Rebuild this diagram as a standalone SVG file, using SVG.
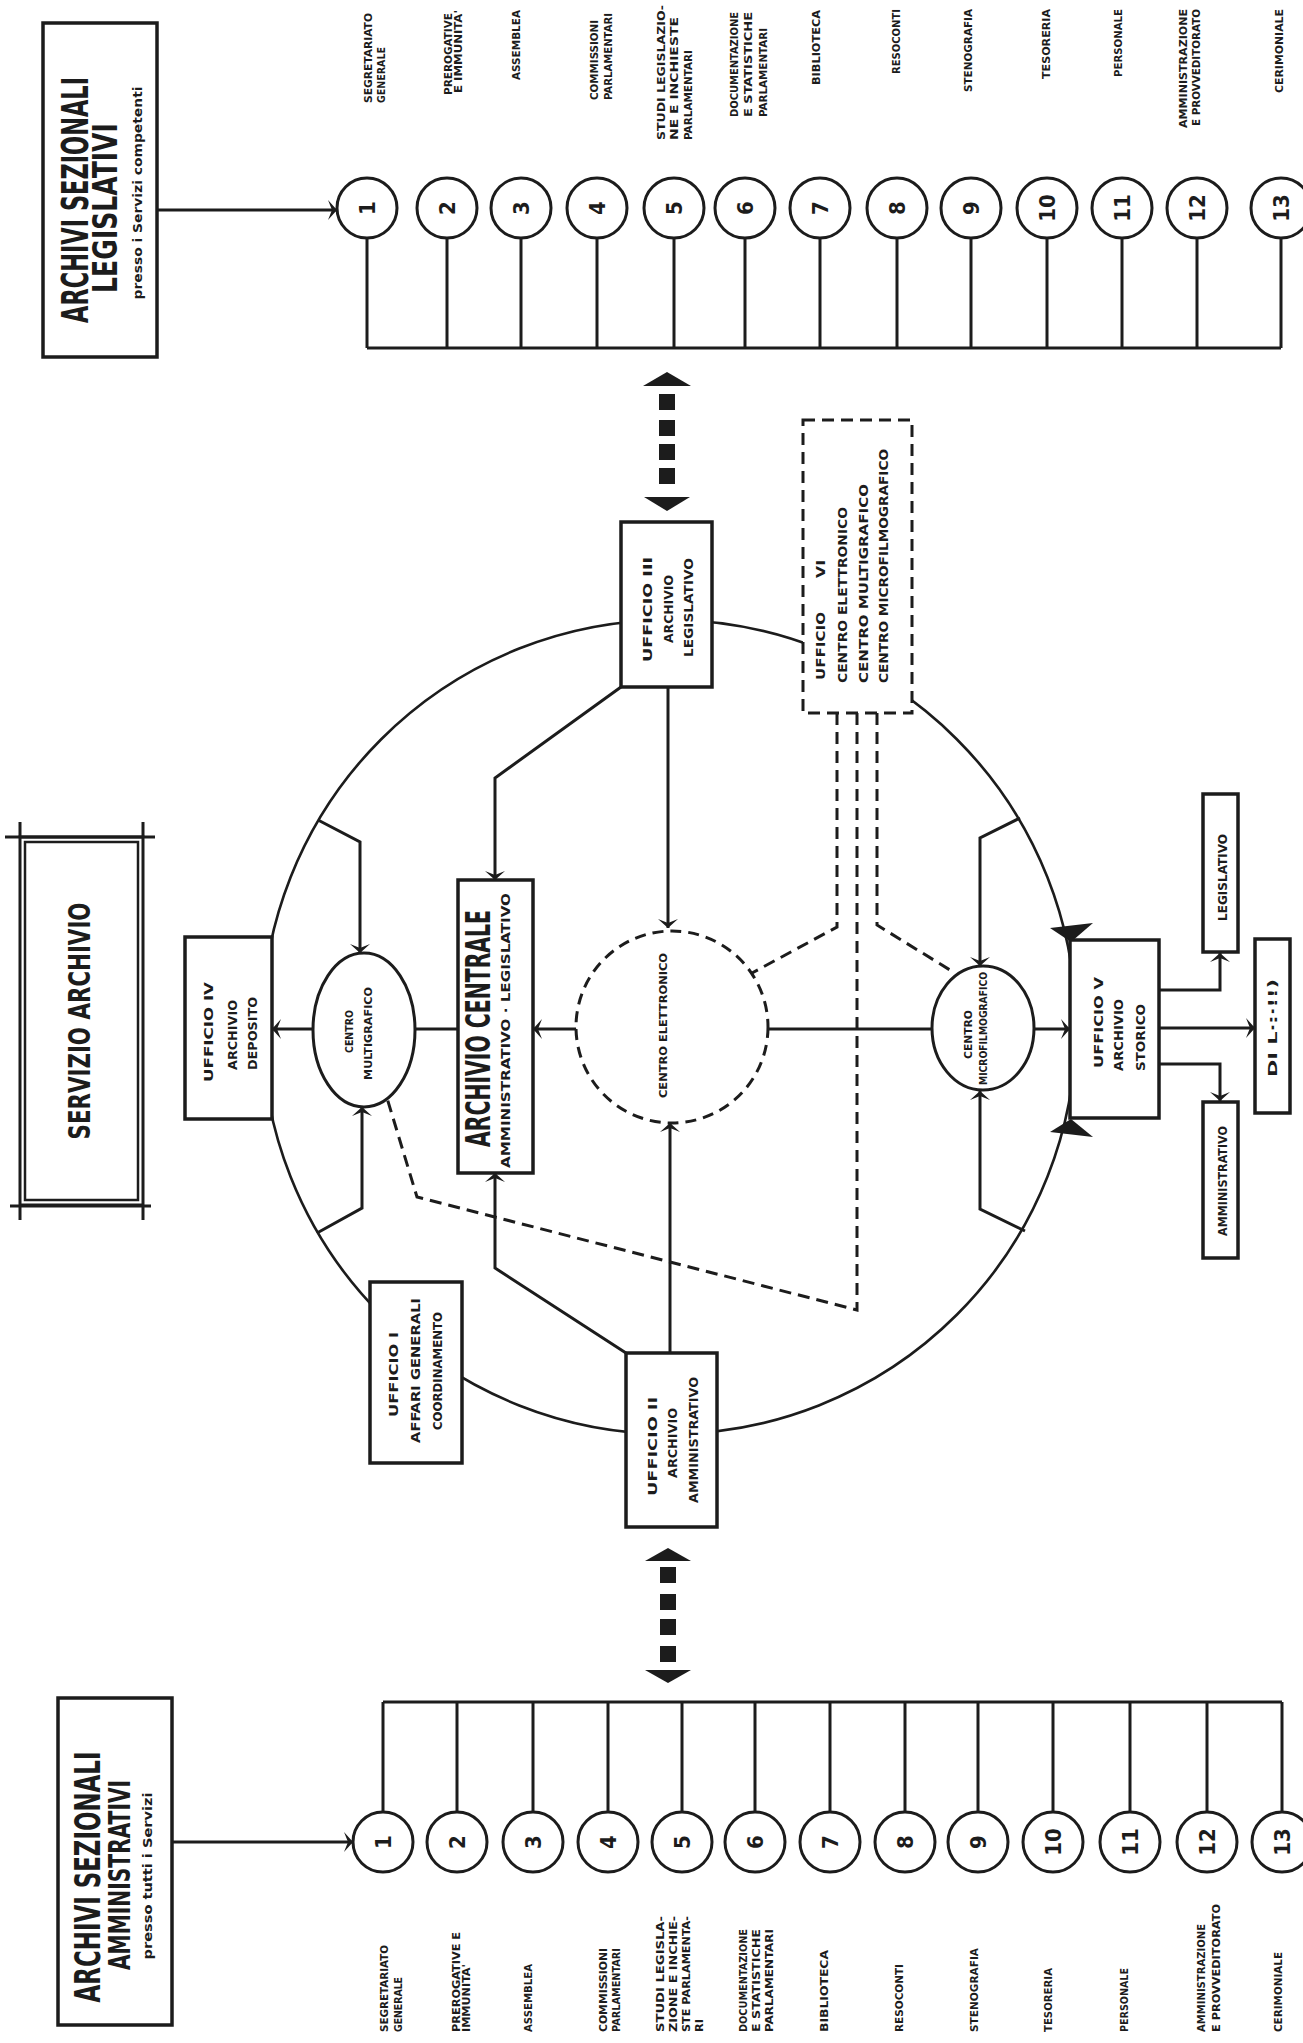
<svg xmlns="http://www.w3.org/2000/svg" width="1303" height="2043" viewBox="0 0 1303 2043">
<style>
.ln{fill:none;stroke:#1c1c1c;stroke-width:3}
.ring{fill:none;stroke:#1c1c1c;stroke-width:2.6}
.dash{fill:none;stroke:#1c1c1c;stroke-width:3;stroke-dasharray:12 7}
.box{fill:#fff;stroke:#1c1c1c;stroke-width:3.5}
.dbox{fill:#fff;stroke:#1c1c1c;stroke-width:3;stroke-dasharray:12 7}
.nc{fill:#fff;stroke:#1c1c1c;stroke-width:3}
.fill{fill:#1c1c1c}
.t{font-family:"Liberation Sans Narrow","DejaVu Sans Condensed","DejaVu Sans","Liberation Sans",sans-serif;font-weight:bold;fill:#1c1c1c}
.l{font-size:10px}
.b{font-size:11.5px}
.num{font-size:22px;text-anchor:middle;dominant-baseline:central}
</style>
<defs>
<marker id="ah" viewBox="-10 -11 11 22" refX="0" refY="0" markerWidth="11" markerHeight="22" markerUnits="userSpaceOnUse" orient="auto">
<path d="M-9,-10 L0,0 L-9,10 L-5,0 Z" fill="#1c1c1c"/>
</marker>
</defs>
<rect width="1303" height="2043" fill="#fff"/>

<g id="ring-group">
<circle class="ring" cx="669" cy="1027" r="407"/>
</g>

<g id="connectors">
<path class="ln" d="M157,210 L337,210" marker-end="url(#ah)"/>
<path class="ln" d="M172,1842 L353,1842" marker-end="url(#ah)"/>
<path class="ln" d="M367,348 H1281 M367,238 V348 M447,238 V348 M521,238 V348 M597,238 V348 M674,238 V348 M745,238 V348 M820,238 V348 M897,238 V348 M971,238 V348 M1047,238 V348 M1122,238 V348 M1197,238 V348 M1281,238 V348"/>
<path class="ln" d="M383,1702 H1282 M383,1812 V1702 M457,1812 V1702 M533,1812 V1702 M608,1812 V1702 M682,1812 V1702 M755,1812 V1702 M830,1812 V1702 M905,1812 V1702 M978,1812 V1702 M1053,1812 V1702 M1130,1812 V1702 M1207,1812 V1702 M1282,1812 V1702"/>
<g class="fill">
<polygon points="643,386 667,372 691,386"/>
<rect x="659" y="394" width="16" height="16"/>
<rect x="659" y="420" width="16" height="16"/>
<rect x="659" y="444" width="16" height="16"/>
<rect x="659" y="468" width="16" height="16"/>
<polygon points="644,497 690,497 667,511"/>
<polygon points="645,1561 668,1548 691,1561"/>
<rect x="660" y="1567" width="16" height="16"/>
<rect x="660" y="1594" width="16" height="16"/>
<rect x="660" y="1619" width="16" height="16"/>
<rect x="660" y="1646" width="16" height="16"/>
<polygon points="645,1670 691,1670 668,1683"/>
<polygon points="1050,928 1093,923 1071,942"/>
<polygon points="1050,1132 1093,1137 1071,1119"/>
</g>
<path class="ln" d="M621,687 L495,778 L495,880" marker-end="url(#ah)"/>
<path class="ln" d="M668,687 L668,928" marker-end="url(#ah)"/>
<path class="ln" d="M626,1353 L495,1268 L495,1173" marker-end="url(#ah)"/>
<path class="ln" d="M670,1353 L670,1123" marker-end="url(#ah)"/>
<path class="ln" d="M577,1029 L533,1029" marker-end="url(#ah)"/>
<path class="ln" d="M415,1029 L458,1029"/>
<path class="ln" d="M313,1029 L272,1029" marker-end="url(#ah)"/>
<path class="ln" d="M768,1029 L932,1029"/>
<path class="ln" d="M1034,1029 L1070,1029" marker-end="url(#ah)"/>
<path class="ln" d="M318,820 L360,842 L360,953" marker-end="url(#ah)"/>
<path class="ln" d="M317,1233 L362,1208 L362,1107" marker-end="url(#ah)"/>
<path class="ln" d="M1020,818 L980,838 L980,966" marker-end="url(#ah)"/>
<path class="ln" d="M1025,1231 L980,1209 L980,1091" marker-end="url(#ah)"/>
<path class="ln" d="M1160,990 L1220,990 L1220,953" marker-end="url(#ah)"/>
<path class="ln" d="M1160,1028 L1255,1028" marker-end="url(#ah)"/>
<path class="ln" d="M1160,1064 L1220,1064 L1220,1101" marker-end="url(#ah)"/>
<path class="dash" d="M837,713 L837,927 L752,973"/>
<path class="dash" d="M857,713 L857,1310 L417,1197 L387,1098"/>
<path class="dash" d="M877,713 L877,925 L950,970"/>
</g>

<g id="archivi-legislativi">
<rect class="box" x="43" y="23" width="114" height="334"/>
<text class="t" font-size="37" text-anchor="middle" transform="translate(88 200) rotate(-90) scale(0.6 1)" textLength="410" lengthAdjust="spacingAndGlyphs">ARCHIVI SEZIONALI</text>
<text class="t" font-size="34" text-anchor="middle" transform="translate(117 208) rotate(-90) scale(0.6 1)" textLength="283" lengthAdjust="spacingAndGlyphs">LEGISLATIVI</text>
<text class="t" font-size="13" text-anchor="middle" transform="translate(142 193) rotate(-90)" textLength="213" lengthAdjust="spacingAndGlyphs">presso i Servizi competenti</text>
</g>

<g id="archivi-amministrativi">
<rect class="box" x="58" y="1698" width="114" height="327"/>
<text class="t" font-size="36" text-anchor="middle" transform="translate(100 1877) rotate(-90) scale(0.6 1)" textLength="418" lengthAdjust="spacingAndGlyphs">ARCHIVI SEZIONALI</text>
<text class="t" font-size="31" text-anchor="middle" transform="translate(130 1875) rotate(-90) scale(0.6 1)" textLength="317" lengthAdjust="spacingAndGlyphs">AMMINISTRATIVI</text>
<text class="t" font-size="13" text-anchor="middle" transform="translate(152 1876) rotate(-90)" textLength="167" lengthAdjust="spacingAndGlyphs">presso tutti i Servizi</text>
</g>

<g id="servizio-archivio">
<rect x="20" y="837" width="123" height="368" fill="#fff" stroke="#1c1c1c" stroke-width="3"/>
<rect x="25" y="842" width="113" height="358" fill="none" stroke="#1c1c1c" stroke-width="2.5"/>
<path class="ln" d="M5,837 H155 M20,822 V837 M143,822 V837 M10,1206 H151 M20,1205 V1220 M143,1205 V1220" stroke-width="2.5"/>
<text class="t" font-size="31" text-anchor="middle" transform="translate(90 1021) rotate(-90) scale(0.6 1)" textLength="395" lengthAdjust="spacingAndGlyphs">SERVIZIO ARCHIVIO</text>
</g>

<g id="ufficio-iv">
<rect class="box" x="185" y="937" width="87" height="182"/>
<text class="t b" transform="translate(213 1082) rotate(-90)" textLength="100" lengthAdjust="spacingAndGlyphs">UFFICIO  IV</text>
<text class="t b" transform="translate(237 1070) rotate(-90)" textLength="70" lengthAdjust="spacingAndGlyphs">ARCHIVIO</text>
<text class="t b" transform="translate(257 1070) rotate(-90)" textLength="73" lengthAdjust="spacingAndGlyphs">DEPOSITO</text>
</g>

<g id="centro-multigrafico">
<ellipse cx="364" cy="1030" rx="51" ry="77" fill="#fff" stroke="#1c1c1c" stroke-width="3"/>
<text class="t l" transform="translate(353 1053) rotate(-90)" textLength="43" lengthAdjust="spacingAndGlyphs">CENTRO</text>
<text class="t l" transform="translate(372 1080) rotate(-90)" textLength="93" lengthAdjust="spacingAndGlyphs">MULTIGRAFICO</text>
</g>

<g id="archivio-centrale">
<rect class="box" x="458" y="880" width="75" height="293"/>
<text class="t" font-size="33" transform="translate(490 1147) rotate(-90) scale(0.6 1)" textLength="395" lengthAdjust="spacingAndGlyphs">ARCHIVIO CENTRALE</text>
<text class="t" font-size="13" transform="translate(510 1168) rotate(-90)" textLength="275" lengthAdjust="spacingAndGlyphs">AMMINISTRATIVO  ·  LEGISLATIVO</text>
</g>

<g id="centro-elettronico">
<circle cx="672" cy="1027" r="96" fill="#fff" stroke="#1c1c1c" stroke-width="3" stroke-dasharray="11 7"/>
<text class="t l" transform="translate(667 1098) rotate(-90)" textLength="145" lengthAdjust="spacingAndGlyphs">CENTRO  ELETTRONICO</text>
</g>

<g id="ufficio-iii">
<rect class="box" x="621" y="522" width="91" height="165"/>
<text class="t b" transform="translate(652 662) rotate(-90)" textLength="105" lengthAdjust="spacingAndGlyphs">UFFICIO  III</text>
<text class="t b" transform="translate(673 643) rotate(-90)" textLength="68" lengthAdjust="spacingAndGlyphs">ARCHIVIO</text>
<text class="t b" transform="translate(693 657) rotate(-90)" textLength="99" lengthAdjust="spacingAndGlyphs">LEGISLATIVO</text>
</g>

<g id="ufficio-ii">
<rect class="box" x="626" y="1353" width="91" height="174"/>
<text class="t b" transform="translate(657 1496) rotate(-90)" textLength="99" lengthAdjust="spacingAndGlyphs">UFFICIO  II</text>
<text class="t b" transform="translate(677 1478) rotate(-90)" textLength="70" lengthAdjust="spacingAndGlyphs">ARCHIVIO</text>
<text class="t b" transform="translate(698 1503) rotate(-90)" textLength="126" lengthAdjust="spacingAndGlyphs">AMMINISTRATIVO</text>
</g>

<g id="ufficio-i">
<rect class="box" x="370" y="1282" width="92" height="181"/>
<text class="t b" transform="translate(398 1417) rotate(-90)" textLength="85" lengthAdjust="spacingAndGlyphs">UFFICIO  I</text>
<text class="t b" transform="translate(420 1443) rotate(-90)" textLength="145" lengthAdjust="spacingAndGlyphs">AFFARI  GENERALI</text>
<text class="t b" transform="translate(442 1430) rotate(-90)" textLength="118" lengthAdjust="spacingAndGlyphs">COORDINAMENTO</text>
</g>

<g id="ufficio-vi">
<rect class="dbox" x="803" y="420" width="109" height="293"/>
<text class="t b" transform="translate(825 680) rotate(-90)" textLength="68" lengthAdjust="spacingAndGlyphs">UFFICIO</text>
<text class="t b" transform="translate(825 578) rotate(-90)" textLength="18" lengthAdjust="spacingAndGlyphs">VI</text>
<text class="t b" transform="translate(847 683) rotate(-90)" textLength="176" lengthAdjust="spacingAndGlyphs">CENTRO  ELETTRONICO</text>
<text class="t b" transform="translate(868 683) rotate(-90)" textLength="199" lengthAdjust="spacingAndGlyphs">CENTRO  MULTIGRAFICO</text>
<text class="t b" transform="translate(888 683) rotate(-90)" textLength="234" lengthAdjust="spacingAndGlyphs">CENTRO  MICROFILMOGRAFICO</text>
</g>

<g id="centro-microfilmografico">
<ellipse cx="983" cy="1028" rx="51" ry="62" fill="#fff" stroke="#1c1c1c" stroke-width="3"/>
<text class="t l" transform="translate(972 1059) rotate(-90)" textLength="49" lengthAdjust="spacingAndGlyphs">CENTRO</text>
<text class="t l" transform="translate(987 1085) rotate(-90)" textLength="113" lengthAdjust="spacingAndGlyphs">MICROFILMOGRAFICO</text>
</g>

<g id="ufficio-v">
<rect class="box" x="1070" y="940" width="89" height="178"/>
<text class="t b" transform="translate(1103 1068) rotate(-90)" textLength="91" lengthAdjust="spacingAndGlyphs">UFFICIO  V</text>
<text class="t b" transform="translate(1123 1071) rotate(-90)" textLength="72" lengthAdjust="spacingAndGlyphs">ARCHIVIO</text>
<text class="t b" transform="translate(1145 1071) rotate(-90)" textLength="67" lengthAdjust="spacingAndGlyphs">STORICO</text>
</g>

<g id="storico-legislativo">
<rect class="box" x="1203" y="794" width="35" height="158"/>
<text class="t b" transform="translate(1227 921) rotate(-90)" textLength="87" lengthAdjust="spacingAndGlyphs">LEGISLATIVO</text>
</g>
<g id="storico-di">
<rect class="box" x="1255" y="939" width="35" height="174"/>
<text class="t b" transform="translate(1277 1077) rotate(-90)" textLength="98" lengthAdjust="spacingAndGlyphs">DI  L·:·!!)</text>
</g>
<g id="storico-amministrativo">
<rect class="box" x="1203" y="1102" width="35" height="156"/>
<text class="t b" transform="translate(1227 1236) rotate(-90)" textLength="110" lengthAdjust="spacingAndGlyphs">AMMINISTRATIVO</text>
</g>

<g id="top-row">
<g id="t1"><circle class="nc" cx="367" cy="208" r="30"/><text class="t num" transform="translate(367 208) rotate(-90)">1</text>
<text class="t l" transform="translate(372 103) rotate(-90)" textLength="90" lengthAdjust="spacingAndGlyphs">SEGRETARIATO</text>
<text class="t l" transform="translate(385 103) rotate(-90)" textLength="56" lengthAdjust="spacingAndGlyphs">GENERALE</text></g>
<g id="t2"><circle class="nc" cx="447" cy="208" r="30"/><text class="t num" transform="translate(447 208) rotate(-90)">2</text>
<text class="t l" transform="translate(452 95) rotate(-90)" textLength="82" lengthAdjust="spacingAndGlyphs">PREROGATIVE</text>
<text class="t l" transform="translate(462 93) rotate(-90)" textLength="83" lengthAdjust="spacingAndGlyphs">E  IMMUNITA'</text></g>
<g id="t3"><circle class="nc" cx="521" cy="208" r="30"/><text class="t num" transform="translate(521 208) rotate(-90)">3</text>
<text class="t l" transform="translate(520 80) rotate(-90)" textLength="70" lengthAdjust="spacingAndGlyphs">ASSEMBLEA</text></g>
<g id="t4"><circle class="nc" cx="597" cy="208" r="30"/><text class="t num" transform="translate(597 208) rotate(-90)">4</text>
<text class="t l" transform="translate(598 100) rotate(-90)" textLength="80" lengthAdjust="spacingAndGlyphs">COMMISSIONI</text>
<text class="t l" transform="translate(612 100) rotate(-90)" textLength="87" lengthAdjust="spacingAndGlyphs">PARLAMENTARI</text></g>
<g id="t5"><circle class="nc" cx="674" cy="208" r="30"/><text class="t num" transform="translate(674 208) rotate(-90)">5</text>
<text class="t l" transform="translate(665 140) rotate(-90)" textLength="135" lengthAdjust="spacingAndGlyphs">STUDI  LEGISLAZIO-</text>
<text class="t l" transform="translate(678 140) rotate(-90)" textLength="123" lengthAdjust="spacingAndGlyphs">NE  E  INCHIESTE</text>
<text class="t l" transform="translate(692 140) rotate(-90)" textLength="90" lengthAdjust="spacingAndGlyphs">PARLAMENTARI</text></g>
<g id="t6"><circle class="nc" cx="745" cy="208" r="30"/><text class="t num" transform="translate(745 208) rotate(-90)">6</text>
<text class="t l" transform="translate(738 117) rotate(-90)" textLength="105" lengthAdjust="spacingAndGlyphs">DOCUMENTAZIONE</text>
<text class="t l" transform="translate(752 117) rotate(-90)" textLength="105" lengthAdjust="spacingAndGlyphs">E  STATISTICHE</text>
<text class="t l" transform="translate(767 117) rotate(-90)" textLength="89" lengthAdjust="spacingAndGlyphs">PARLAMENTARI</text></g>
<g id="t7"><circle class="nc" cx="820" cy="208" r="30"/><text class="t num" transform="translate(820 208) rotate(-90)">7</text>
<text class="t l" transform="translate(820 85) rotate(-90)" textLength="75" lengthAdjust="spacingAndGlyphs">BIBLIOTECA</text></g>
<g id="t8"><circle class="nc" cx="897" cy="208" r="30"/><text class="t num" transform="translate(897 208) rotate(-90)">8</text>
<text class="t l" transform="translate(900 74) rotate(-90)" textLength="65" lengthAdjust="spacingAndGlyphs">RESOCONTI</text></g>
<g id="t9"><circle class="nc" cx="971" cy="208" r="30"/><text class="t num" transform="translate(971 208) rotate(-90)">9</text>
<text class="t l" transform="translate(972 92) rotate(-90)" textLength="83" lengthAdjust="spacingAndGlyphs">STENOGRAFIA</text></g>
<g id="t10"><circle class="nc" cx="1047" cy="208" r="30"/><text class="t num" transform="translate(1047 208) rotate(-90)">10</text>
<text class="t l" transform="translate(1050 79) rotate(-90)" textLength="70" lengthAdjust="spacingAndGlyphs">TESORERIA</text></g>
<g id="t11"><circle class="nc" cx="1122" cy="208" r="30"/><text class="t num" transform="translate(1122 208) rotate(-90)">11</text>
<text class="t l" transform="translate(1122 77) rotate(-90)" textLength="68" lengthAdjust="spacingAndGlyphs">PERSONALE</text></g>
<g id="t12"><circle class="nc" cx="1197" cy="208" r="30"/><text class="t num" transform="translate(1197 208) rotate(-90)">12</text>
<text class="t l" transform="translate(1187 128) rotate(-90)" textLength="119" lengthAdjust="spacingAndGlyphs">AMMINISTRAZIONE</text>
<text class="t l" transform="translate(1200 126) rotate(-90)" textLength="117" lengthAdjust="spacingAndGlyphs">E  PROVVEDITORATO</text></g>
<g id="t13"><circle class="nc" cx="1281" cy="208" r="30"/><text class="t num" transform="translate(1281 208) rotate(-90)">13</text>
<text class="t l" transform="translate(1283 93) rotate(-90)" textLength="84" lengthAdjust="spacingAndGlyphs">CERIMONIALE</text></g>
</g>

<g id="bottom-row">
<g id="b1"><circle class="nc" cx="383" cy="1842" r="30"/><text class="t num" transform="translate(383 1842) rotate(-90)">1</text>
<text class="t l" transform="translate(388 2032) rotate(-90)" textLength="87" lengthAdjust="spacingAndGlyphs">SEGRETARIATO</text>
<text class="t l" transform="translate(402 2032) rotate(-90)" textLength="55" lengthAdjust="spacingAndGlyphs">GENERALE</text></g>
<g id="b2"><circle class="nc" cx="457" cy="1842" r="30"/><text class="t num" transform="translate(457 1842) rotate(-90)">2</text>
<text class="t l" transform="translate(460 2032) rotate(-90)" textLength="100" lengthAdjust="spacingAndGlyphs">PREROGATIVE  E</text>
<text class="t l" transform="translate(470 2032) rotate(-90)" textLength="68" lengthAdjust="spacingAndGlyphs">IMMUNITA'</text></g>
<g id="b3"><circle class="nc" cx="533" cy="1842" r="30"/><text class="t num" transform="translate(533 1842) rotate(-90)">3</text>
<text class="t l" transform="translate(532 2032) rotate(-90)" textLength="68" lengthAdjust="spacingAndGlyphs">ASSEMBLEA</text></g>
<g id="b4"><circle class="nc" cx="608" cy="1842" r="30"/><text class="t num" transform="translate(608 1842) rotate(-90)">4</text>
<text class="t l" transform="translate(607 2032) rotate(-90)" textLength="84" lengthAdjust="spacingAndGlyphs">COMMISSIONI</text>
<text class="t l" transform="translate(620 2032) rotate(-90)" textLength="84" lengthAdjust="spacingAndGlyphs">PARLAMENTARI</text></g>
<g id="b5"><circle class="nc" cx="682" cy="1842" r="30"/><text class="t num" transform="translate(682 1842) rotate(-90)">5</text>
<text class="t l" transform="translate(664 2032) rotate(-90)" textLength="116" lengthAdjust="spacingAndGlyphs">STUDI  LEGISLA-</text>
<text class="t l" transform="translate(677 2032) rotate(-90)" textLength="116" lengthAdjust="spacingAndGlyphs">ZIONE  E  INCHIE-</text>
<text class="t l" transform="translate(690 2032) rotate(-90)" textLength="116" lengthAdjust="spacingAndGlyphs">STE  PARLAMENTA-</text>
<text class="t l" transform="translate(703 2032) rotate(-90)" textLength="13" lengthAdjust="spacingAndGlyphs">RI</text></g>
<g id="b6"><circle class="nc" cx="755" cy="1842" r="30"/><text class="t num" transform="translate(755 1842) rotate(-90)">6</text>
<text class="t l" transform="translate(747 2032) rotate(-90)" textLength="103" lengthAdjust="spacingAndGlyphs">DOCUMENTAZIONE</text>
<text class="t l" transform="translate(760 2032) rotate(-90)" textLength="103" lengthAdjust="spacingAndGlyphs">E  STATISTICHE</text>
<text class="t l" transform="translate(773 2032) rotate(-90)" textLength="103" lengthAdjust="spacingAndGlyphs">PARLAMENTARI</text></g>
<g id="b7"><circle class="nc" cx="830" cy="1842" r="30"/><text class="t num" transform="translate(830 1842) rotate(-90)">7</text>
<text class="t l" transform="translate(828 2032) rotate(-90)" textLength="82" lengthAdjust="spacingAndGlyphs">BIBLIOTECA</text></g>
<g id="b8"><circle class="nc" cx="905" cy="1842" r="30"/><text class="t num" transform="translate(905 1842) rotate(-90)">8</text>
<text class="t l" transform="translate(903 2032) rotate(-90)" textLength="68" lengthAdjust="spacingAndGlyphs">RESOCONTI</text></g>
<g id="b9"><circle class="nc" cx="978" cy="1842" r="30"/><text class="t num" transform="translate(978 1842) rotate(-90)">9</text>
<text class="t l" transform="translate(978 2032) rotate(-90)" textLength="84" lengthAdjust="spacingAndGlyphs">STENOGRAFIA</text></g>
<g id="b10"><circle class="nc" cx="1053" cy="1842" r="30"/><text class="t num" transform="translate(1053 1842) rotate(-90)">10</text>
<text class="t l" transform="translate(1052 2032) rotate(-90)" textLength="64" lengthAdjust="spacingAndGlyphs">TESORERIA</text></g>
<g id="b11"><circle class="nc" cx="1130" cy="1842" r="30"/><text class="t num" transform="translate(1130 1842) rotate(-90)">11</text>
<text class="t l" transform="translate(1128 2032) rotate(-90)" textLength="64" lengthAdjust="spacingAndGlyphs">PERSONALE</text></g>
<g id="b12"><circle class="nc" cx="1207" cy="1842" r="30"/><text class="t num" transform="translate(1207 1842) rotate(-90)">12</text>
<text class="t l" transform="translate(1205 2032) rotate(-90)" textLength="108" lengthAdjust="spacingAndGlyphs">AMMINISTRAZIONE</text>
<text class="t l" transform="translate(1220 2032) rotate(-90)" textLength="128" lengthAdjust="spacingAndGlyphs">E  PROVVEDITORATO</text></g>
<g id="b13"><circle class="nc" cx="1282" cy="1842" r="30"/><text class="t num" transform="translate(1282 1842) rotate(-90)">13</text>
<text class="t l" transform="translate(1282 2032) rotate(-90)" textLength="80" lengthAdjust="spacingAndGlyphs">CERIMONIALE</text></g>
</g>
</svg>
